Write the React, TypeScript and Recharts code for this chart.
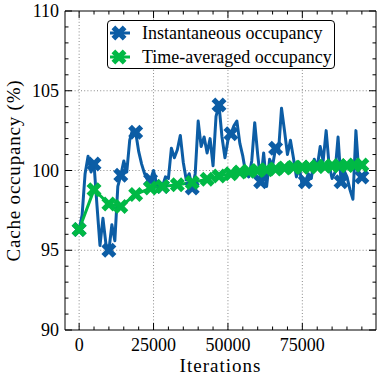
import React from "react";
import { LineChart, Line, XAxis, YAxis, ReferenceLine, Legend } from "recharts";

const iterations = [
  0, 1000, 2000, 3000, 4000, 5000, 6000, 7000, 8000, 9000,
  10000, 11000, 12000, 13000, 14000, 15000, 16000, 17000, 18000, 19000,
  20000, 21000, 22000, 23000, 24000, 25000, 26000, 27000, 28000, 29000,
  30000, 31000, 32000, 33000, 34000, 35000, 36000, 37000, 38000, 39000,
  40000, 41000, 42000, 43000, 44000, 45000, 46000, 47000, 48000, 49000,
  50000, 51000, 52000, 53000, 54000, 55000, 56000, 57000, 58000, 59000,
  60000, 61000, 62000, 63000, 64000, 65000, 66000, 67000, 68000, 69000,
  70000, 71000, 72000, 73000, 74000, 75000, 76000, 77000, 78000, 79000,
  80000, 81000, 82000, 83000, 84000, 85000, 86000, 87000, 88000, 89000,
  90000, 91000, 92000, 93000, 94000, 95000,
];

const instantaneous = [
  96.3, 97.2, 99.8, 100.9, 99.9, 100.4, 97.8, 95.3, 97.0, 95.4,
  95.0, 96.6, 95.6, 99.0, 99.7, 100.6, 99.9, 101.9, 102.6, 102.4,
  101.2, 100.4, 99.8, 99.4, 99.4, 100.0, 99.2, 98.7, 99.0, 99.6,
  99.5, 101.4, 100.8, 101.3, 102.2, 100.5, 99.4, 99.8, 98.9, 99.8,
  103.1, 101.5, 102.1, 101.1, 102.0, 100.3, 103.4, 104.1, 102.1, 100.8,
  101.9, 102.3, 102.8, 103.1, 101.7, 100.9, 99.8, 99.6, 100.6, 103.0,
  101.0, 99.3, 101.1, 99.0, 100.7, 100.3, 101.4, 101.2, 103.9, 102.5,
  101.0, 101.9, 100.8, 99.6, 100.2, 99.0, 99.3, 99.8, 99.5, 100.7,
  100.2, 101.5, 100.6, 102.5, 100.3, 99.5, 99.9, 102.1, 99.3, 100.0,
  99.6, 98.8, 98.2, 102.5, 99.8, 99.6,
];

// iterations where the instantaneous curve carries a marker
const markedIterations = [
  0, 5000, 10000, 14000, 19000, 24000, 28000, 38000, 47000, 51000,
  61000, 66000, 76000, 88000, 95000,
];

const averagedIterations = [
  0, 5000, 10000, 14000, 19000, 24000, 28000, 33000, 38000, 43000,
  47000, 51000, 54000, 57000, 60000, 63000, 66000, 69000, 72000, 75000,
  77500, 80000, 82500, 85000, 87500, 90000, 92500, 95000,
];

const timeAveraged = [
  96.3, 98.8, 97.9, 97.75, 98.5, 98.9, 99.0, 99.1, 99.25, 99.45,
  99.65, 99.8, 99.9, 99.95, 100.0, 100.05, 100.1, 100.15, 100.2, 100.2,
  100.22, 100.25, 100.27, 100.3, 100.3, 100.32, 100.35, 100.35,
];

const xTicks = [
  0, 5000, 10000, 15000, 20000, 25000, 30000, 35000, 40000, 45000,
  50000, 55000, 60000, 65000, 70000, 75000, 80000, 85000, 90000, 95000,
];
const xMajor = [0, 25000, 50000, 75000];
const yTicks = [90, 91, 92, 93, 94, 95, 96, 97, 98, 99, 100, 101, 102, 103, 104, 105, 106, 107, 108, 109, 110];
const yMajor = [90, 95, 100, 105, 110];

const BLUE = "#0C5DA5";
const GREEN = "#00B945";
const FONT = "serif";

const legendItems = [
  { label: "Instantaneous occupancy", color: BLUE },
  { label: "Time-averaged occupancy", color: GREEN },
];

const blueData = iterations.map((x, i) => ({ x, y: instantaneous[i] }));
const greenData = averagedIterations.map((x, i) => ({ x, y: timeAveraged[i] }));

// filled "X" marker, like matplotlib's 'X'
const PLUS = [[-1, -3], [1, -3], [1, -1], [3, -1], [3, 1], [1, 1], [1, 3], [-1, 3], [-1, 1], [-3, 1], [-3, -1], [-1, -1]];
function Cross({ cx, cy, color, half = 7.5 }: { cx: number; cy: number; color: string; half?: number }) {
  const k = half / (4 / Math.SQRT2);
  const pts = PLUS.map(([a, b]) => `${cx + ((a - b) / Math.SQRT2) * k},${cy + ((a + b) / Math.SQRT2) * k}`).join(" ");
  return <polygon points={pts} fill={color} />;
}

function makeTick(side: "bottom" | "top" | "left" | "right") {
  return (props: any) => {
    const { x, y, payload } = props;
    const v = payload.value;
    const major = side === "bottom" || side === "top" ? xMajor.includes(v) : yMajor.includes(v);
    const len = major ? 7 : 3.5;
    let line;
    if (side === "bottom") line = <line x1={x} y1={y} x2={x} y2={y - len} />;
    else if (side === "top") line = <line x1={x} y1={y} x2={x} y2={y + len} />;
    else if (side === "left") line = <line x1={x} y1={y} x2={x + len} y2={y} />;
    else line = <line x1={x} y1={y} x2={x - len} y2={y} />;
    let label = null;
    if (major && side === "bottom")
      label = <text x={x} y={y + 21} textAnchor="middle" fontSize={18} fontFamily={FONT} fill="#000">{v}</text>;
    if (major && side === "left")
      label = <text x={x - 6} y={y + 6} textAnchor="end" fontSize={18} fontFamily={FONT} fill="#000">{v}</text>;
    return (
      <g>
        <g stroke="#000" strokeWidth={1}>{line}</g>
        {label}
      </g>
    );
  };
}

function LegendBox() {
  return (
    <div
      style={{
        boxSizing: "border-box",
        width: 228,
        height: 49,
        border: "1px solid #000",
        borderRadius: 4,
        background: "#fff",
        fontFamily: FONT,
        fontSize: 18,
        color: "#000",
      }}
    >
      {legendItems.map((item) => (
        <div key={item.label} style={{ display: "flex", alignItems: "center", height: 24 }}>
          <svg width={34} height={24} style={{ flex: "none" }}>
            <line x1={2} y1={12} x2={22} y2={12} stroke={item.color} strokeWidth={3} />
            <Cross cx={11} cy={12} color={item.color} />
          </svg>
          <span style={{ whiteSpace: "nowrap", lineHeight: "24px" }}>{item.label}</span>
        </div>
      ))}
    </div>
  );
}

export default function App() {
  const domainX: [number, number] = [-4750, 99750];
  const domainY: [number, number] = [90, 110];
  return (
    <div style={{ position: "absolute", left: 0, top: 0, background: "#fff", fontFamily: FONT }}>
      <LineChart width={382} height={382} margin={{ top: 11, right: 6, bottom: 0, left: 0 }}>
        <XAxis
          xAxisId="bottom"
          type="number"
          dataKey="x"
          domain={domainX}
          allowDataOverflow
          ticks={xTicks}
          interval={0}
          height={52}
          tickSize={0}
          tickMargin={0}
          tickLine={false}
          axisLine={{ stroke: "#000", strokeWidth: 1 }}
          tick={makeTick("bottom")}
          label={{ value: "Iterations", position: "insideBottom", offset: 10, fontSize: 19, fontFamily: FONT, fill: "#000", letterSpacing: 1 }}
        />
        <XAxis
          xAxisId="top"
          orientation="top"
          mirror
          type="number"
          dataKey="x"
          domain={domainX}
          allowDataOverflow
          ticks={xTicks}
          interval={0}
          tickSize={0}
          tickMargin={0}
          tickLine={false}
          axisLine={{ stroke: "#000", strokeWidth: 1 }}
          tick={makeTick("top")}
        />
        <YAxis
          yAxisId="left"
          type="number"
          domain={domainY}
          allowDataOverflow
          ticks={yTicks}
          interval={0}
          width={65}
          tickSize={0}
          tickMargin={0}
          tickLine={false}
          axisLine={{ stroke: "#000", strokeWidth: 1 }}
          tick={makeTick("left")}
          label={{
            content: (p: any) => {
              const vb = p.viewBox || { x: 0, y: 11, height: 319 };
              const cx = vb.x + 13;
              const cy = vb.y + vb.height / 2;
              return (
                <text x={cx} y={cy} transform={`rotate(-90, ${cx}, ${cy})`} textAnchor="middle" dominantBaseline="central" fontSize={19} fontFamily={FONT} fill="#000" letterSpacing={0.8}>
                  Cache occupancy (%)
                </text>
              );
            },
          }}
        />
        <YAxis
          yAxisId="right"
          orientation="right"
          mirror
          type="number"
          domain={domainY}
          allowDataOverflow
          ticks={yTicks}
          interval={0}
          tickSize={0}
          tickMargin={0}
          tickLine={false}
          axisLine={{ stroke: "#000", strokeWidth: 1 }}
          tick={makeTick("right")}
        />
        {xMajor.map((v) => (
          <ReferenceLine key={`vx${v}`} xAxisId="bottom" yAxisId="left" x={v} stroke="#8a8a8a" strokeDasharray="1 2.2" strokeWidth={1} />
        ))}
        {yMajor.slice(1, -1).map((v) => (
          <ReferenceLine key={`hy${v}`} xAxisId="bottom" yAxisId="left" y={v} stroke="#8a8a8a" strokeDasharray="1 2.2" strokeWidth={1} />
        ))}
        <Line
          xAxisId="bottom"
          yAxisId="left"
          data={blueData}
          dataKey="y"
          name="Instantaneous occupancy"
          stroke={BLUE}
          strokeWidth={3}
          strokeLinejoin="round"
          isAnimationActive={false}
          activeDot={false}
          dot={(p: any) =>
            markedIterations.includes(p.payload.x) ? (
              <Cross key={`b${p.index}`} cx={p.cx} cy={p.cy} color={BLUE} />
            ) : (
              <g key={`b${p.index}`} />
            )
          }
        />
        <Line
          xAxisId="bottom"
          yAxisId="left"
          data={greenData}
          dataKey="y"
          name="Time-averaged occupancy"
          stroke={GREEN}
          strokeWidth={3}
          strokeLinejoin="round"
          isAnimationActive={false}
          activeDot={false}
          dot={(p: any) => <Cross key={`g${p.index}`} cx={p.cx} cy={p.cy} color={GREEN} />}
        />
        <Legend
          layout="vertical"
          align="center"
          verticalAlign="middle"
          wrapperStyle={{ position: "absolute", left: 107, top: 20, width: 228, height: 49 }}
          content={() => <LegendBox />}
        />
      </LineChart>
    </div>
  );
}
